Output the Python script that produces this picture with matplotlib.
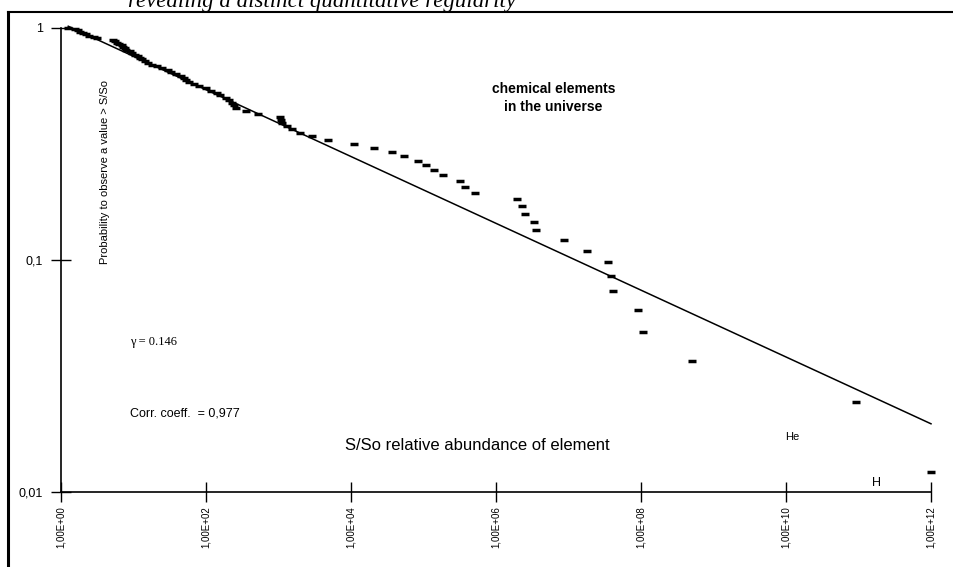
import numpy as np
import matplotlib
matplotlib.use("Agg")
import matplotlib.pyplot as plt
from matplotlib.lines import Line2D

n_elements = 82
ranks = list(range(82, 0, -1))
log_s = [0.10, 0.19, 0.23, 0.26, 0.30, 0.35, 0.38, 0.45, 0.50, 0.72,
         0.74, 0.77, 0.80, 0.84, 0.86, 0.88, 0.90, 0.95, 0.98, 1.02,
         1.06, 1.09, 1.12, 1.16, 1.20, 1.26, 1.32, 1.40, 1.47, 1.52,
         1.58, 1.66, 1.69, 1.72, 1.76, 1.83, 1.90, 2.00, 2.07, 2.15,
         2.20, 2.27, 2.32, 2.36, 2.39, 2.42, 2.55, 2.72, 3.02, 3.04,
         3.05, 3.12, 3.19, 3.30, 3.46, 3.68, 4.04, 4.32, 4.57, 4.73,
         4.92, 5.03, 5.14, 5.27, 5.50, 5.57, 5.71, 6.29, 6.36, 6.40,
         6.52, 6.55, 6.94, 7.26, 7.54, 7.59, 7.61, 7.96, 8.03, 8.70,
         10.97, 12.0]

# power law fit drawn in the picture
fit_log_a = 0.022
fit_slope = -0.144
fit_range = [0.1, 12.0]

xticks = [1e0, 1e2, 1e4, 1e6, 1e8, 1e10, 1e12]
xlabels = ["1,00E+00", "1,00E+02", "1,00E+04", "1,00E+06", "1,00E+08", "1,00E+10", "1,00E+12"]
yticks = [0.01, 0.1, 1]
ylabels = ["0,01", "0,1", "1"]

plt.rcParams['font.family'] = ['Liberation Sans', 'DejaVu Sans']

fig = plt.figure(figsize=(9.54, 5.67), dpi=100)
ax = fig.add_axes([61/954, 75/567, 870/954, 464/567])

s = 10**np.array(log_s)
p = np.array(ranks) / n_elements
ax.plot(s, p, ls='none', marker='_', ms=6, mew=2.5, color='black', clip_on=False)

fx = 10**np.array(fit_range)
fy = 10**(fit_log_a + fit_slope*np.array(fit_range))
ax.plot(fx, fy, color='black', lw=1.1, clip_on=False)

ax.set_xscale('log')
ax.set_yscale('log')
ax.set_xlim(1, 1e12)
ax.set_ylim(0.01, 1)
ax.set_xticks(xticks)
ax.set_xticklabels(xlabels, rotation=90, fontsize=7)
ax.set_yticks(yticks)
ax.set_yticklabels(ylabels, fontsize=9)
ax.minorticks_off()
ax.tick_params(axis='x', direction='inout', length=14, width=1, pad=3)
ax.tick_params(axis='y', direction='inout', length=14, width=1, pad=6)
for sp in ['top', 'right']:
    ax.spines[sp].set_visible(False)
for sp in ['left', 'bottom']:
    ax.spines[sp].set_linewidth(1.2)

ax.text(0.566, 0.85, "chemical elements\nin the universe", transform=ax.transAxes,
        ha='center', va='center', fontsize=10, fontweight='bold', linespacing=1.35)
fig.text(105/954, 1 - 172/567, "Probability to observe a value > S/So", rotation=90,
         ha='center', va='center', fontsize=8)
fig.text(130/954, 1 - 342/567, "\u03b3 = 0.146", ha='left', va='center',
         fontsize=9, family=['Liberation Serif', 'DejaVu Serif'])
fig.text(130/954, 1 - 413/567, "Corr. coeff.  = 0,977", ha='left', va='center', fontsize=9)
fig.text(345/954, 1 - 446/567, "S/So relative abundance of element", ha='left',
         va='center', fontsize=12)
fig.text(785/954, 1 - 437/567, "He", ha='left', va='center', fontsize=8)
fig.text(872/954, 1 - 483/567, "H", ha='left', va='center', fontsize=9)

# caption cut by the scan
fig.text(322/954, 1 - 1/567, "revealing a distinct quantitative regularity", ha='center',
         va='center', fontsize=16.5, style='italic', family=['Liberation Serif', 'DejaVu Serif'])

# scanned frame
fig.add_artist(Line2D([8/954, 1], [1 - 12/567, 1 - 12/567], transform=fig.transFigure,
                      color='black', lw=1.5))
fig.add_artist(Line2D([8/954, 8/954], [0, 1 - 12/567], transform=fig.transFigure,
                      color='black', lw=2.2))

fig.savefig("out.png", dpi=100)
